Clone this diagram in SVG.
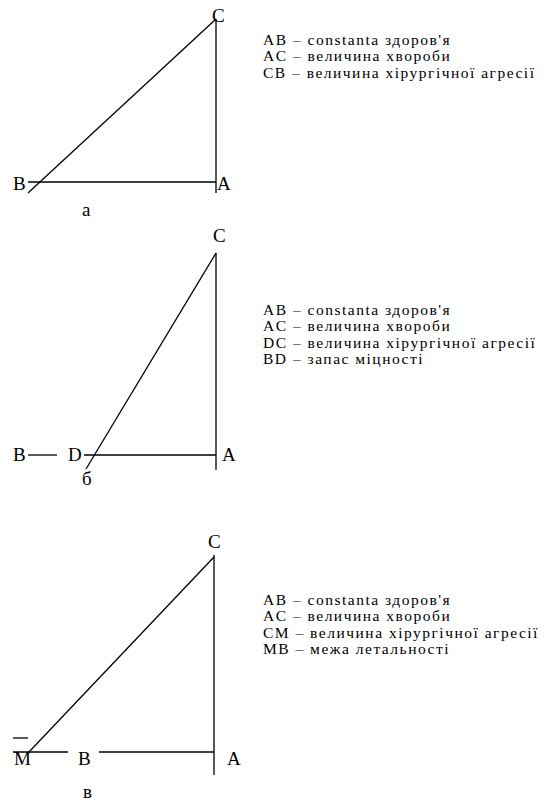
<svg xmlns="http://www.w3.org/2000/svg" width="551" height="803" viewBox="0 0 551 803">
<style>
.ln{stroke:#000;stroke-width:1.3;fill:none}
.lb{font-family:"Liberation Serif","Times New Roman",serif;font-size:19px;fill:#000}
.lg{font-family:"Liberation Serif","Times New Roman",serif;font-size:15.5px;letter-spacing:1.5px;fill:#000}
</style>
<rect width="551" height="803" fill="#fff"/>
<g id="connectors">
  <line class="ln" x1="216" y1="19" x2="216" y2="193"/>
  <line class="ln" x1="28" y1="182" x2="216" y2="182"/>
  <line class="ln" x1="28" y1="193" x2="216" y2="19"/>
  <line class="ln" x1="216" y1="253" x2="216" y2="470"/>
  <line class="ln" x1="28" y1="455" x2="57" y2="455"/>
  <line class="ln" x1="84" y1="455" x2="216" y2="455"/>
  <line class="ln" x1="86" y1="469" x2="216" y2="253"/>
  <line class="ln" x1="214" y1="555" x2="214" y2="775"/>
  <line class="ln" x1="13" y1="752" x2="68" y2="752"/>
  <line class="ln" x1="99" y1="752" x2="214" y2="752"/>
  <line class="ln" x1="28" y1="753" x2="214" y2="557"/>
  <line class="ln" x1="13" y1="738" x2="28" y2="738"/>
</g>
<g id="diagram-a">
  <text class="lb" x="212" y="22">C</text>
  <text class="lb" x="13" y="190">B</text>
  <text class="lb" x="217" y="190">A</text>
  <text class="lb" x="82" y="216">a</text>
  <text class="lg" x="263" y="45">AB – constanta здоров'я</text>
  <text class="lg" x="263" y="61">AC – величина хвороби</text>
  <text class="lg" x="263" y="78">CB – величина хірургічної агресії</text>
</g>
<g id="diagram-b">
  <text class="lb" x="213" y="242">C</text>
  <text class="lb" x="13" y="461">B</text>
  <text class="lb" x="68" y="461">D</text>
  <text class="lb" x="222" y="461">A</text>
  <text class="lb" x="82" y="485">б</text>
  <text class="lg" x="263" y="315">AB – constanta здоров'я</text>
  <text class="lg" x="263" y="331">AC – величина хвороби</text>
  <text class="lg" x="263" y="348">DC – величина хірургічної агресії</text>
  <text class="lg" x="263" y="364">BD – запас міцності</text>
</g>
<g id="diagram-v">
  <text class="lb" x="208" y="548">C</text>
  <text class="lb" x="14" y="765">M</text>
  <text class="lb" x="78" y="765">B</text>
  <text class="lb" x="227" y="765">A</text>
  <text class="lb" x="83" y="798">в</text>
  <text class="lg" x="263" y="605">AB – constanta здоров'я</text>
  <text class="lg" x="263" y="621">AC – величина хвороби</text>
  <text class="lg" x="263" y="638">CM – величина хірургічної агресії</text>
  <text class="lg" x="263" y="654">MB – межа летальності</text>
</g>
</svg>
